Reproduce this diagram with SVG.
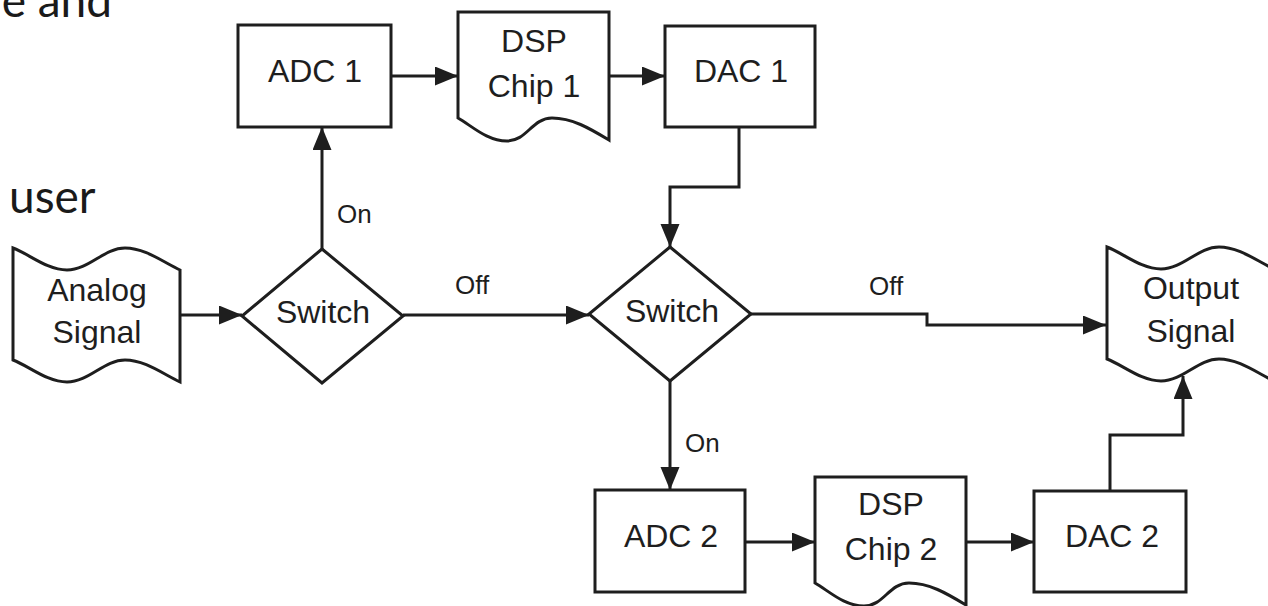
<svg xmlns="http://www.w3.org/2000/svg" width="1268" height="606" viewBox="0 0 1268 606">
<defs>
<style>
.shape{fill:#fff;stroke:#1e1e1e;stroke-width:3;stroke-linejoin:miter}
.conn{fill:none;stroke:#1e1e1e;stroke-width:3}
.lbl{font-family:"Liberation Sans",Arial,sans-serif;font-size:32px;fill:#1e1e1e;text-anchor:middle}
.sm{font-family:"Liberation Sans",Arial,sans-serif;font-size:26px;fill:#1e1e1e}
.bg{font-family:Lato,"Open Sans",sans-serif;font-size:46px;fill:#1a1a1a}
</style>
<marker id="arr" markerUnits="userSpaceOnUse" markerWidth="24" markerHeight="20" refX="23" refY="9.5" orient="auto">
<path d="M0,0 L23,9.5 L0,19 Z" fill="#1e1e1e"/>
</marker>
<path id="tape" d="M0,0 C16,6 34,22 54,22 C76,22 91,0 112,0 C132,0 150,14 167,22 L167,134 C150,126 132,112 112,112 C91,112 76,134 54,134 C34,134 16,118 0,112 Z"/>
<path id="doc" d="M0,0 L151,0 L151,128 C131,116 114,106 94,106 C74,106 69,129 49,129 C29,129 14,114 0,106 Z"/>
</defs>
<rect width="1268" height="606" fill="#fff"/>
<text class="bg" x="112" y="17" text-anchor="end">e and</text>
<text class="bg" x="9" y="213">user</text>
<g id="connectors">
<path class="conn" d="M180,315 L242,315" marker-end="url(#arr)"/>
<path class="conn" d="M322,249 L322,127" marker-end="url(#arr)"/>
<path class="conn" d="M391,76 L458,76" marker-end="url(#arr)"/>
<path class="conn" d="M609,76 L665,76" marker-end="url(#arr)"/>
<path class="conn" d="M739,127 L739,187 L670,187 L670,247" marker-end="url(#arr)"/>
<path class="conn" d="M403,315 L589,315" marker-end="url(#arr)"/>
<path class="conn" d="M751,314 L927,314 L927,325 L1106,325" marker-end="url(#arr)"/>
<path class="conn" d="M670,381 L670,490" marker-end="url(#arr)"/>
<path class="conn" d="M745,542 L815,542" marker-end="url(#arr)"/>
<path class="conn" d="M966,542 L1034,542" marker-end="url(#arr)"/>
<path class="conn" d="M1110,491 L1110,435 L1183,435 L1183,376" marker-end="url(#arr)"/>
<text class="sm" x="337" y="223">On</text>
<text class="sm" x="455" y="294">Off</text>
<text class="sm" x="869" y="295">Off</text>
<text class="sm" x="685" y="452">On</text>
</g>
<g id="analog">
<use href="#tape" class="shape" x="13" y="248"/>
<text class="lbl" x="97" y="301">Analog</text>
<text class="lbl" x="97" y="343">Signal</text>
</g>
<g id="switch1">
<path class="shape" d="M322,249 L403,316 L322,383 L242,316 Z"/>
<text class="lbl" x="323" y="323">Switch</text>
</g>
<g id="adc1">
<rect class="shape" x="238" y="25" width="153" height="102"/>
<text class="lbl" x="315" y="82">ADC 1</text>
</g>
<g id="dsp1">
<use href="#doc" class="shape" x="458" y="12"/>
<text class="lbl" x="534" y="52">DSP</text>
<text class="lbl" x="534" y="97">Chip 1</text>
</g>
<g id="dac1">
<rect class="shape" x="665" y="26" width="150" height="101"/>
<text class="lbl" x="741" y="82">DAC 1</text>
</g>
<g id="switch2">
<path class="shape" d="M670,247 L751,314 L670,381 L589,314 Z"/>
<text class="lbl" x="672" y="322">Switch</text>
</g>
<g id="output">
<use href="#tape" class="shape" x="1107" y="247"/>
<text class="lbl" x="1191" y="299">Output</text>
<text class="lbl" x="1191" y="342">Signal</text>
</g>
<g id="adc2">
<rect class="shape" x="595" y="490" width="150" height="102"/>
<text class="lbl" x="671" y="547">ADC 2</text>
</g>
<g id="dsp2">
<use href="#doc" class="shape" x="815" y="477"/>
<text class="lbl" x="891" y="515">DSP</text>
<text class="lbl" x="891" y="560">Chip 2</text>
</g>
<g id="dac2">
<rect class="shape" x="1034" y="491" width="152" height="101"/>
<text class="lbl" x="1112" y="547">DAC 2</text>
</g>
</svg>
